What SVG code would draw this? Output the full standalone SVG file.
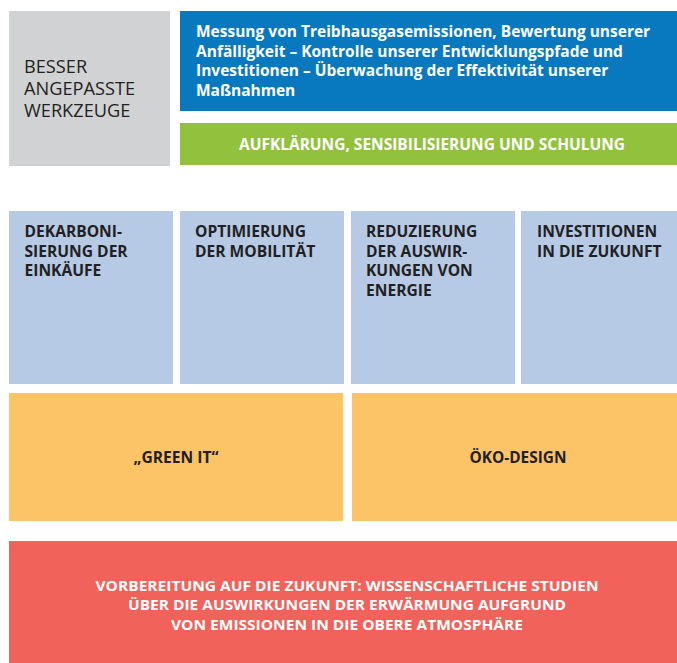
<svg xmlns="http://www.w3.org/2000/svg" width="677" height="663" viewBox="0 0 677 663">
<style>
text{font-family:"Open Sans","Noto Sans","Liberation Sans",sans-serif}
.w{fill:#ffffff;font-weight:700}
.d{fill:#231f20;font-weight:700;font-size:15.6px}
</style>
<rect width="677" height="663" fill="#ffffff"/>
<g id="werkzeuge">
<rect x="9" y="11" width="161" height="155" fill="#d1d2d4"/>
<text x="24" y="73" font-size="18.2" fill="#231f20">BESSER</text>
<text x="24" y="95" font-size="18.2" fill="#231f20">ANGEPASSTE</text>
<text x="24" y="117" font-size="18.2" fill="#231f20">WERKZEUGE</text>
</g>
<g id="messung">
<rect x="180" y="11" width="497" height="100" fill="#0979bf"/>
<text class="w" x="196" y="37" font-size="15.5">Messung von Treibhausgasemissionen, Bewertung unserer</text>
<text class="w" x="196" y="57" font-size="15.5">Anfälligkeit – Kontrolle unserer Entwicklungspfade und</text>
<text class="w" x="196" y="76" font-size="15.5">Investitionen – Überwachung der Effektivität unserer</text>
<text class="w" x="196" y="96" font-size="15.5">Maßnahmen</text>
</g>
<g id="aufklaerung">
<rect x="180" y="123" width="497" height="42" fill="#92c13e"/>
<text class="w" x="432" y="150" font-size="15.5" text-anchor="middle">AUFKLÄRUNG, SENSIBILISIERUNG UND SCHULUNG</text>
</g>
<g id="dekarbonisierung">
<rect x="9" y="211" width="164" height="173" fill="#b6c9e5"/>
<text class="d" x="24.5" y="237">DEKARBONI-</text>
<text class="d" x="24.5" y="257">SIERUNG DER</text>
<text class="d" x="24.5" y="276">EINKÄUFE</text>
</g>
<g id="mobilitaet">
<rect x="180" y="211" width="164" height="173" fill="#b6c9e5"/>
<text class="d" x="195" y="237">OPTIMIERUNG</text>
<text class="d" x="195" y="257">DER MOBILITÄT</text>
</g>
<g id="energie">
<rect x="351" y="211" width="164" height="173" fill="#b6c9e5"/>
<text class="d" x="366" y="237">REDUZIERUNG</text>
<text class="d" x="366" y="257">DER AUSWIR-</text>
<text class="d" x="366" y="276">KUNGEN VON</text>
<text class="d" x="366" y="296">ENERGIE</text>
</g>
<g id="investitionen">
<rect x="521" y="211" width="156" height="173" fill="#b6c9e5"/>
<text class="d" x="537" y="237">INVESTITIONEN</text>
<text class="d" x="537" y="257">IN DIE ZUKUNFT</text>
</g>
<g id="greenit">
<rect x="9" y="393" width="334" height="128" fill="#fcc467"/>
<text x="176" y="463" font-size="16" font-weight="700" fill="#231f20" text-anchor="middle" textLength="85" lengthAdjust="spacingAndGlyphs">„GREEN IT“</text>
</g>
<g id="oekodesign">
<rect x="352" y="393" width="325" height="128" fill="#fcc467"/>
<text x="518" y="463" font-size="16" font-weight="700" fill="#231f20" text-anchor="middle" textLength="97" lengthAdjust="spacingAndGlyphs">ÖKO-DESIGN</text>
</g>
<g id="vorbereitung">
<rect x="9" y="541" width="668" height="122" fill="#f0625a"/>
<text class="w" x="347" y="591" font-size="15" text-anchor="middle" textLength="503" lengthAdjust="spacingAndGlyphs">VORBEREITUNG AUF DIE ZUKUNFT: WISSENSCHAFTLICHE STUDIEN</text>
<text class="w" x="347" y="610" font-size="15" text-anchor="middle" textLength="438" lengthAdjust="spacingAndGlyphs">ÜBER DIE AUSWIRKUNGEN DER ERWÄRMUNG AUFGRUND</text>
<text class="w" x="347" y="630" font-size="15" text-anchor="middle" textLength="352" lengthAdjust="spacingAndGlyphs">VON EMISSIONEN IN DIE OBERE ATMOSPHÄRE</text>
</g>
<g id="connectors"></g>
</svg>
